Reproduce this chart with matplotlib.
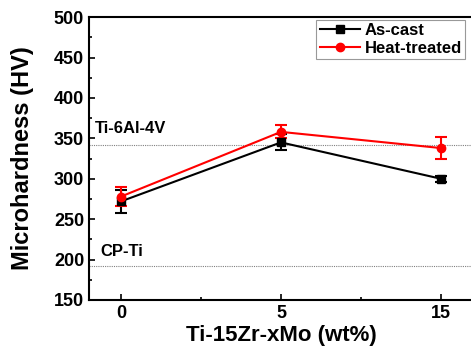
import matplotlib.pyplot as plt
from matplotlib.ticker import MultipleLocator

plt.rcParams['font.family'] = ['Liberation Sans', 'DejaVu Sans']
plt.rcParams['font.weight'] = 'bold'

labels = ['0', '5', '15']
as_cast = [272, 345, 300]
as_cast_err = [14, 10, 4]
heat = [278, 358, 338]
heat_err = [12, 8, 14]
ref_ti64 = 342
ref_cpti = 192

x = range(len(labels))

fig = plt.figure(figsize=(4.71, 3.5), dpi=100)
ax = fig.add_axes([0.189, 0.143, 0.815, 0.808])

ax.axhline(ref_ti64, color='gray', lw=0.8, ls=(0, (1, 1)))
ax.axhline(ref_cpti, color='gray', lw=0.8, ls=(0, (1, 1)))

ax.errorbar(x, as_cast, yerr=as_cast_err, color='black', fmt='none',
            capsize=4, elinewidth=1.5, capthick=1.5)
ax.errorbar(x, heat, yerr=heat_err, color='red', fmt='none',
            capsize=4, elinewidth=1.5, capthick=1.5)
ax.plot(x, as_cast, color='black', marker='s', ms=6, lw=1.5, label='As-cast')
ax.plot(x, heat, color='red', marker='o', ms=6, lw=1.5, label='Heat-treated')

ax.text(0.016, 0.59, 'Ti-6Al-4V', transform=ax.transAxes, fontsize=12, fontweight='bold')
ax.text(0.03, 0.155, 'CP-Ti', transform=ax.transAxes, fontsize=12, fontweight='bold')

ax.set_xlim(-0.2, 2.2)
ax.set_ylim(150, 500)
ax.set_xticks(list(x))
ax.set_xticklabels(labels)
ax.xaxis.set_minor_locator(MultipleLocator(0.5))
ax.yaxis.set_major_locator(MultipleLocator(50))
ax.yaxis.set_minor_locator(MultipleLocator(25))
ax.tick_params(which='both', direction='in', top=False, right=False, labelsize=13, width=1.2)
ax.tick_params(which='major', length=4)
ax.tick_params(which='minor', length=2.5)
for s in ax.spines.values():
    s.set_linewidth(1.5)

ax.set_xlabel('Ti-15Zr-xMo (wt%)', fontsize=16, fontweight='bold', labelpad=2)
ax.set_ylabel('Microhardness (HV)', fontsize=17, fontweight='bold', labelpad=14)

leg = ax.legend(loc='upper right', bbox_to_anchor=(0.98, 0.99), fontsize=12, frameon=True,
                fancybox=False, edgecolor='gray', handlelength=2.4, borderpad=0.2,
                labelspacing=0.15, handletextpad=0.3, borderaxespad=0)
leg.get_frame().set_linewidth(0.8)

fig.savefig('out.png', dpi=100)
